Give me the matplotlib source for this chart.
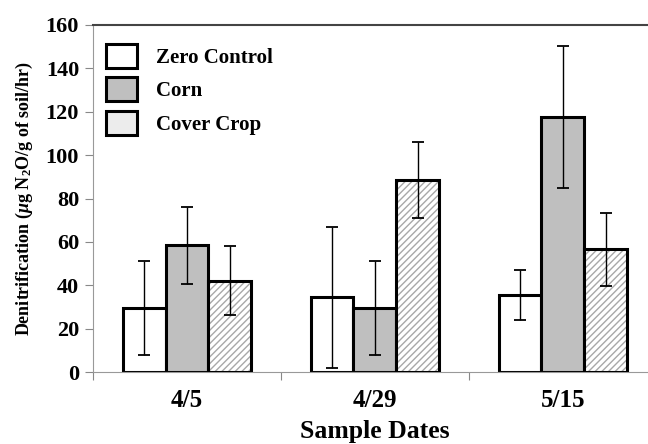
import numpy as np
import matplotlib
matplotlib.use("Agg")
import matplotlib.pyplot as plt
from matplotlib.patches import Patch

plt.rcParams['font.family'] = ['Liberation Serif', 'DejaVu Serif']
plt.rcParams['font.weight'] = 'bold'
plt.rcParams['mathtext.fontset'] = 'custom'
plt.rcParams['mathtext.rm'] = 'Liberation Serif:bold'
plt.rcParams['mathtext.it'] = 'Liberation Serif:italic:bold'
plt.rcParams['mathtext.bf'] = 'Liberation Serif:bold'
plt.rcParams['hatch.linewidth'] = 1.0

dates = ["4/5", "4/29", "5/15"]
series = ["Zero Control", "Corn", "Cover Crop"]
zero = [29.5, 34.5, 35.5]
zero_err = [21.5, 32.5, 11.7]
corn = [58.5, 29.5, 117.7]
corn_err = [17.8, 21.5, 32.7]
cover = [42.2, 88.5, 56.6]
cover_err = [16.0, 17.6, 16.7]

fig = plt.figure(figsize=(6.48, 4.44), dpi=100)
ax = fig.add_axes([0.1435, 0.162, 0.870, 0.7817])

x = np.arange(len(dates)) + 0.5
w = 0.228
ekw = dict(ecolor="black", elinewidth=1.0, capsize=4, capthick=1.3)

ax.bar(x - w, zero, w, color="white", edgecolor="black", linewidth=2.2,
       yerr=zero_err, error_kw=ekw, zorder=2)
ax.bar(x, corn, w, color="#bfbfbf", edgecolor="black", linewidth=2.2,
       yerr=corn_err, error_kw=ekw, zorder=2)
# hatched fill first, black outline on top
ax.bar(x + w, cover, w, color="white", edgecolor="#a8a8a8", hatch="/////",
       linewidth=0, zorder=2)
ax.bar(x + w, cover, w, color="none", edgecolor="black", linewidth=2.2,
       yerr=cover_err, error_kw=ekw, zorder=3)

ax.set_xlim(0, 3)
ax.set_ylim(0, 160)
ax.set_yticks(np.arange(0, 161, 20))
ax.set_xticks([0, 1, 2, 3])
ax.set_xticklabels([])
ax.set_xticks(x, minor=True)
ax.set_xticklabels(dates, minor=True, fontsize=18, fontweight="bold")
ax.tick_params(axis="x", which="minor", length=0, pad=12)
ax.tick_params(axis="x", which="major", length=6, color="#888888", direction="out")
ax.tick_params(axis="y", labelsize=16, length=6, color="#888888", pad=4)

ax.spines["right"].set_visible(False)
ax.spines["top"].set_color("#444444")
ax.spines["top"].set_linewidth(1.5)
ax.spines["left"].set_color("#999999")
ax.spines["bottom"].set_color("#999999")

ax.set_ylabel(r"Denitrification ($\mathit{\mu}$g N$_2$O/g of soil/hr)",
              fontsize=13, fontweight="bold", labelpad=8)
ax.set_xlabel("Sample Dates", fontsize=18.5, fontweight="bold")
ax.xaxis.set_label_coords(0.5, -0.138)

# legend swatches: plain, grey and a light hatched one
handles = [Patch(facecolor="white", edgecolor="black", linewidth=2.2),
           Patch(facecolor="#bfbfbf", edgecolor="black", linewidth=2.2),
           Patch(facecolor="#ececec", edgecolor="black", linewidth=2.2)]
leg = ax.legend(handles, series, loc="upper left", bbox_to_anchor=(-0.01, 1.0),
                frameon=False, fontsize=15, handlelength=1.5, handleheight=1.4,
                labelspacing=0.45, handletextpad=0.9)

fig.savefig("out.png", dpi=100)
